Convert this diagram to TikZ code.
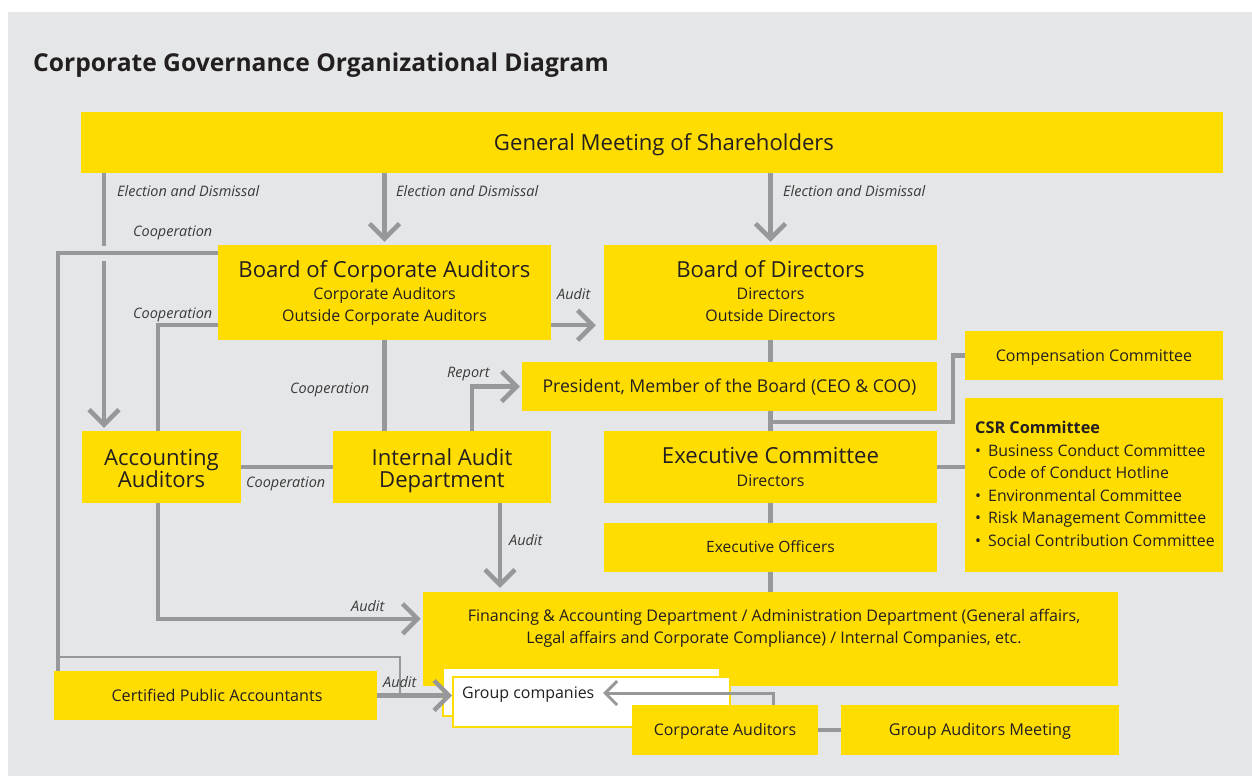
\documentclass[tikz,border=0pt]{standalone}
\usepackage{fontspec}
\setmainfont{Open Sans}
\usetikzlibrary{arrows.meta,calc}
\definecolor{panel}{HTML}{E5E6E8}
\definecolor{yel}{HTML}{FFDD00}
\definecolor{conn}{HTML}{97989A}
\definecolor{ink}{HTML}{231F20}
\definecolor{lbl}{HTML}{3A3A3A}
\newcommand\fsz[2]{\fontsize{#1}{#2}\selectfont}
\tikzset{
  box/.style={fill=yel, inner sep=0pt},
  gbox/.style={fill=white, draw=yel, line width=1.6bp, inner sep=0pt},
  tt/.style={text=ink, inner sep=0pt, anchor=base},
  big/.style={font=\fsz{22.2}{24}},
  small/.style={font=\fsz{16}{20}},
  lab/.style={text=lbl, inner sep=0pt, anchor=base west, font=\fsz{14.5}{17}\itshape},
  line/.style={draw=conn, line width=4.5bp},
  mid/.style={draw=conn, line width=3bp},
  thinline/.style={draw=conn, line width=2bp},
  arr/.style={-{Straight Barb[length=15bp,width=30bp]}},
  sarr/.style={-{Straight Barb[length=12bp,width=24bp]}},
}
\begin{document}
\begin{tikzpicture}[x=1bp,y=-1bp]
\useasboundingbox (0,0) rectangle (1252,776);
\fill[white] (0,0) rectangle (1252,776);
\fill[panel] (8,12) rectangle (1252,776);

% heading
\node[tt, anchor=base west, font=\fsz{24.7}{28}\bfseries] (title) at (33,72) {Corporate Governance Organizational Diagram};

% boxes
\node[box, minimum width=1142bp, minimum height=61bp] (gms) at (652,142.5) {};
\node[box, minimum width=333bp, minimum height=95bp] (bca) at (384.5,292.5) {};
\node[box, minimum width=333bp, minimum height=95bp] (bod) at (770.5,292.5) {};
\node[box, minimum width=258bp, minimum height=49bp] (comp) at (1094,355.5) {};
\node[box, minimum width=415bp, minimum height=49bp] (pres) at (729.5,386.5) {};
\node[box, minimum width=258bp, minimum height=174bp] (csr) at (1094,485) {};
\node[box, minimum width=159bp, minimum height=72bp] (acc) at (161.5,467) {};
\node[box, minimum width=218bp, minimum height=72bp] (iad) at (442,467) {};
\node[box, minimum width=333bp, minimum height=72bp] (exc) at (770.5,467) {};
\node[box, minimum width=333bp, minimum height=49bp] (exo) at (770.5,547.5) {};
\node[box, minimum width=695bp, minimum height=94bp] (fin) at (770.5,639) {};
\node[gbox, minimum width=277bp, minimum height=48bp] (gcb) at (581.5,692) {};
\node[gbox, minimum width=277bp, minimum height=50bp] (gcf) at (591.5,702) {};
\node[box, minimum width=186bp, minimum height=50bp] (ca) at (725,730) {};
\node[box, minimum width=278bp, minimum height=50bp] (gam) at (980,730) {};
\node[box, minimum width=323bp, minimum height=49bp] (cpa) at (215.5,695.5) {};

% box texts
\node[tt, font=\fsz{22.2}{24}] (gmst) at (664,150.5) {General Meeting of Shareholders};
\node[tt, big] (bcat) at (384.5,277.7) {Board of Corporate Auditors};
\node[tt, small] (bcas1) at (384.5,299.7) {Corporate Auditors};
\node[tt, small] (bcas2) at (384.5,321.7) {Outside Corporate Auditors};
\node[tt, big] (bodt) at (770.5,277.7) {Board of Directors};
\node[tt, small] (bods1) at (770.5,299.7) {Directors};
\node[tt, small] (bods2) at (770.5,321.7) {Outside Directors};
\node[tt, font=\fsz{16.1}{20}] (compt) at (1094,361.7) {Compensation Committee};
\node[tt, font=\fsz{17.7}{20}] (prest) at (729.5,392.3) {President, Member of the Board (CEO \& COO)};
\node[tt, anchor=base west, font=\fsz{16.3}{20}\bfseries] (csr0) at (975,433.8) {CSR Committee};
\node[tt, anchor=base west, font=\fsz{15.9}{20}] (csr1) at (975,456) {\makebox[13bp][l]{\textbullet}Business Conduct Committee};
\node[tt, anchor=base west, font=\fsz{15.9}{20}] (csr2) at (988,478.5) {Code of Conduct Hotline};
\node[tt, anchor=base west, font=\fsz{15.9}{20}] (csr3) at (975,501) {\makebox[13bp][l]{\textbullet}Environmental Committee};
\node[tt, anchor=base west, font=\fsz{15.9}{20}] (csr4) at (975,523.5) {\makebox[13bp][l]{\textbullet}Risk Management Committee};
\node[tt, anchor=base west, font=\fsz{15.9}{20}] (csr5) at (975,546) {\makebox[13bp][l]{\textbullet}Social Contribution Committee};
\node[tt, font=\fsz{22.2}{24}] (acct1) at (161.5,465.5) {Accounting};
\node[tt, font=\fsz{22.2}{24}] (acct2) at (161.5,487.5) {Auditors};
\node[tt, font=\fsz{22.2}{24}] (iadt1) at (442,465.5) {Internal Audit};
\node[tt, font=\fsz{22.2}{24}] (iadt2) at (442,487.5) {Department};
\node[tt, big] (exct) at (770.5,463.5) {Executive Committee};
\node[tt, small] (excs) at (770.5,486.7) {Directors};
\node[tt, font=\fsz{15.6}{20}] (exot) at (770.5,552.5) {Executive Officers};
\node[tt, font=\fsz{16.1}{20}] (fint1) at (774,621.5) {Financing \& Accounting Department / Administration Department (General affairs,};
\node[tt, font=\fsz{16.1}{20}] (fint2) at (774,643.5) {Legal affairs and Corporate Compliance) / Internal Companies, etc.};
\node[tt, anchor=base west, font=\fsz{16}{20}] (gct) at (462,698.7) {Group companies};
\node[tt, small] (cat) at (725,735.7) {Corporate Auditors};
\node[tt, font=\fsz{16.3}{20}] (gamt) at (980,735.7) {Group Auditors Meeting};
\node[tt, font=\fsz{16.2}{20}] (cpat) at (217,701.7) {Certified Public Accountants};

% guide coordinates for connector bends
\coordinate (xl) at (58,0);
\coordinate (xe) at (104,0);
\coordinate (xa) at (158,0);
\coordinate (xr) at (472,0);
\coordinate (xi) at (500,0);
\coordinate (xc) at (953,0);
\coordinate (xt) at (400,0);
\coordinate (xg) at (773,0);
\coordinate (xing) at (104,253);
\coordinate (gin) at (603,693);

% connectors
\draw[line] (gms.south -| xe) -- ($(xing)+(0,-7)$);
\draw[line,arr,shorten >=3bp] ($(xing)+(0,8)$) -- (acc.north -| xe);
\draw[line,arr,shorten >=3bp] (gms.south -| bca.north) -- (bca.north);
\draw[line,arr,shorten >=3bp] (gms.south -| bod.north) -- (bod.north);
\draw[line] ($(bca.north west)+(0,8)$) -| (cpa.north -| xl);
\draw[line] ($(bca.south west)+(0,-15)$) -| (acc.north -| xa);
\draw[line] (bca.south) -- (bca.south |- iad.north);
\draw[line] (acc.east) -- (iad.west);
\draw[line,arr,shorten >=8bp] ($(bca.south east)+(0,-15)$) -- ($(bod.south west)+(0,-15)$);
\draw[line,arr,shorten >=2bp] (iad.north -| xr) |- (pres.west);
\draw[line] (bod.south) -- (bod.south |- pres.north);
\draw[line] (exc.north |- pres.south) -- (exc.north);
\draw[line] ($(exc.north)+(0,-9)$) -| (comp.west -| xc) -- (comp.west);
\draw[line] (exc.east) -- (exc.east -| csr.west);
\draw[line] (exc.south) -- (exo.north);
\draw[line] (exo.south) -- (exo.south |- fin.north);
\draw[line,arr,shorten >=4bp] (iad.south -| xi) -- (fin.north -| xi);
\draw[line,arr,shorten >=2bp] (acc.south -| xa) |- ($(fin.north west)+(0,27)$);
\draw[thinline] ($(cpa.north -| xl)+(0,-14)$) -| (cpa.east -| xt);
\draw[line,arr] (cpa.east) -- (cpa.east -| gcf.west);
\draw[mid,sarr] (ca.north -| xg) |- (gin);
\draw[line] (ca.east) -- (gam.west);

% connector labels
\node[lab] (l1) at (117,196) {Election and Dismissal};
\node[lab] (l2) at (396,196) {Election and Dismissal};
\node[lab] (l3) at (783,196) {Election and Dismissal};
\node[lab] (l4) at (133,236) {Cooperation};
\node[lab] (l5) at (133,318) {Cooperation};
\node[lab] (l6) at (290,393) {Cooperation};
\node[lab] (l7) at (246,487) {Cooperation};
\node[lab] (l8) at (557,299) {Audit};
\node[lab] (l9) at (447,377) {Report};
\node[lab] (l10) at (509,545) {Audit};
\node[lab] (l11) at (351,611) {Audit};
\node[lab] (l12) at (383,687) {Audit};
\end{tikzpicture}
\end{document}
